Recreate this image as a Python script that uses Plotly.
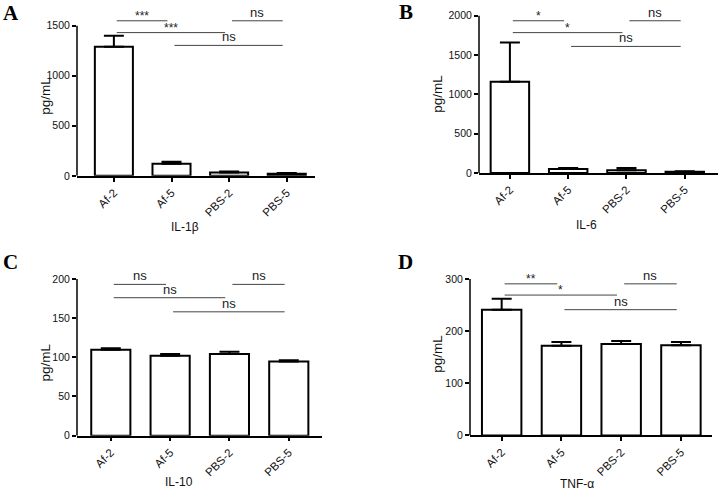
import plotly.graph_objects as go

W, H = 720, 498

categories = ["Af-2", "Af-5", "PBS-2", "PBS-5"]

il1b_mean = [1290, 120, 33, 20]
il1b_err = [110, 20, 10, 8]
il6_mean = [1160, 50, 35, 15]
il6_err = [500, 12, 28, 6]
il10_mean = [109.6, 102, 104.2, 94.5]
il10_err = [1.8, 2.2, 2.8, 1.6]
tnf_mean = [241, 172, 175, 173]
tnf_err = [21, 7, 6, 6]

x_titles = ["IL-1\u03b2", "IL-6", "IL-10", "TNF-\u03b1"]
panel_letters = ["A", "B", "C", "D"]
y_tickvals = [[0, 500, 1000, 1500], [0, 500, 1000, 1500, 2000],
              [0, 50, 100, 150, 200], [0, 100, 200, 300]]

# comparisons: (i, j, label)
comparisons = [
    [(0, 1, "***"), (0, 2, "***"), (2, 3, "ns"), (1, 3, "ns")],
    [(0, 1, "*"), (0, 2, "*"), (2, 3, "ns"), (1, 3, "ns")],
    [(0, 1, "ns"), (0, 2, "ns"), (2, 3, "ns"), (1, 3, "ns")],
    [(0, 1, "**"), (0, 2, "*"), (2, 3, "ns"), (1, 3, "ns")],
]

means = [il1b_mean, il6_mean, il10_mean, tnf_mean]
errs = [il1b_err, il6_err, il10_err, tnf_err]

# ---- layout geometry (pixels) ----
# (x_left, x_right, y_zero_px, px_per_unit, x_range, y_top)
geom = [
    (77, 315, 178, 152 / 1500, [-0.64, 3.49], 1700),
    (479, 718, 175, 159 / 2000, [-0.53, 3.57], 2150),
    (77, 322, 441, 158.7 / 200, [-0.57, 3.56], 215),
    (470, 712, 440.7, 158.4 / 300, [-0.53, 3.52], 320),
]
# bracket levels (data units) per panel, same order as comparisons
levels = [
    [1549, 1431, 1549, 1303],
    [1937, 1786, 1937, 1610],
    [193, 176, 193, 158],
    [290.5, 269, 290.5, 241],
]
xtitle_pos = [(185, 230), (586, 228), (179, 488), (577, 490)]
ytitle_pos = [(46, 97), (438, 95), (46, 367), (438, 358)]
letter_pos = [(11, 13), (406, 12), (10, 265), (405, 265)]

FONT = "Liberation Sans, Arial, sans-serif"
fig = go.Figure()
shapes = []
annotations = []

for k in range(4):
    xl, xr, y0, ppu, xrange, ytop = geom[k]
    sfx = "" if k == 0 else str(k + 1)
    xa, ya = "x" + sfx, "y" + sfx
    fig.add_trace(go.Bar(
        x=categories, y=means[k], xaxis=xa, yaxis=ya,
        marker=dict(color="white", line=dict(color="black", width=2)),
        width=0.66,
        error_y=dict(type="data", symmetric=False, array=errs[k],
                     arrayminus=[0] * 4, color="black", thickness=2, width=10),
        showlegend=False,
    ))
    top_px = y0 - ytop * ppu
    xdom = [xl / W, xr / W]
    ydom = [1 - y0 / H, 1 - top_px / H]
    fig.update_layout(**{
        "xaxis" + sfx: dict(domain=xdom, range=xrange, anchor=ya,
                            showline=True, linecolor="black", linewidth=1.5,
                            ticks="outside", ticklen=4, tickwidth=1.5,
                            tickcolor="black", tickangle=-45,
                            tickfont=dict(family=FONT, size=11.5, color="#111"),
                            showgrid=False, zeroline=False, fixedrange=True),
        "yaxis" + sfx: dict(domain=ydom, range=[0, ytop], anchor=xa,
                            showline=False, ticks="outside", ticklen=4,
                            tickwidth=1.5, tickcolor="black",
                            tickvals=y_tickvals[k],
                            tickfont=dict(family=FONT, size=10.5, color="#111"),
                            showgrid=False, zeroline=False, fixedrange=True),
    })
    # y axis line up to top tick
    shapes.append(dict(type="line", xref=xa + " domain", yref=ya,
                       x0=0, x1=0, y0=0, y1=max(y_tickvals[k]),
                       line=dict(color="black", width=1.5)))
    # significance brackets
    for (i, j, lab), lev in zip(comparisons[k], levels[k]):
        xa0, xa1 = i + 0.05, j - 0.07
        shapes.append(dict(type="line", xref=xa, yref=ya,
                           x0=xa0, x1=xa1, y0=lev, y1=lev,
                           line=dict(color="#444", width=1)))
        star = lab != "ns"
        annotations.append(dict(xref=xa, yref=ya, x=(xa0 + xa1) / 2, y=lev,
                                text=lab, showarrow=False, yanchor="bottom",
                                yshift=-4 if star else -1,
                                font=dict(family=FONT, size=13 if not star else 12,
                                          color="#222")))
    # titles
    tx, ty = xtitle_pos[k]
    annotations.append(dict(xref="paper", yref="paper", x=tx / W, y=1 - ty / H,
                            text=x_titles[k], showarrow=False,
                            xanchor="center", yanchor="middle",
                            font=dict(family=FONT, size=12, color="#111")))
    px, py = ytitle_pos[k]
    annotations.append(dict(xref="paper", yref="paper", x=px / W, y=1 - py / H,
                            text="pg/mL", showarrow=False, textangle=-90,
                            xanchor="center", yanchor="middle",
                            font=dict(family=FONT, size=13.5, color="#111")))
    lx, ly = letter_pos[k]
    annotations.append(dict(xref="paper", yref="paper", x=lx / W, y=1 - ly / H,
                            text="<b>" + panel_letters[k] + "</b>", showarrow=False,
                            xanchor="center", yanchor="middle",
                            font=dict(family="Liberation Serif, Times New Roman, serif",
                                      size=21, color="black")))

fig.update_layout(
    width=W, height=H, margin=dict(l=0, r=0, t=0, b=0),
    paper_bgcolor="white", plot_bgcolor="white",
    shapes=shapes, annotations=annotations, bargap=0.34,
)

fig.write_html("out.html", config={"displayModeBar": False},
               post_script="document.body.style.margin='0';document.body.style.overflow='hidden';")
